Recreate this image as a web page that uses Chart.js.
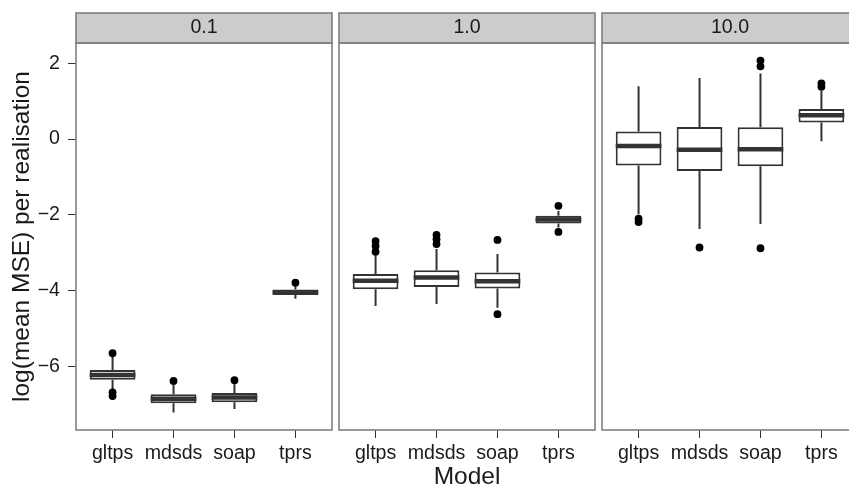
<!DOCTYPE html>
<html>
<head>
<meta charset="utf-8">
<script src="https://cdn.jsdelivr.net/npm/chart.js@4.4.0/dist/chart.umd.min.js"></script>
<style>
  html, body { margin: 0; padding: 0; background: #fff; overflow: hidden; width: 849px; height: 486px; }
  canvas { position: absolute; top: 0; }
</style>
</head>
<body>
<canvas id="p1" width="334" height="496" style="left:0px"></canvas>
<canvas id="p2" width="260" height="496" style="left:337px"></canvas>
<canvas id="p3" width="260" height="496" style="left:600px"></canvas>
<script>
const models = ['gltps', 'mdsds', 'soap', 'tprs'];
const panelLabels = ['0.1', '1.0', '10.0'];
const yTicks = [-6, -4, -2, 0, 2];

// [lower whisker, Q1, median, Q3, upper whisker] for each model
const stats01 = [
    [-6.60, -6.35, -6.22, -6.09, -5.75],
    [-7.21, -6.97, -6.85, -6.73, -6.45],
    [-7.12, -6.94, -6.82, -6.70, -6.45],
    [-4.21, -4.11, -4.04, -3.97, -3.88]
];
const stats1 = [
    [-4.40, -3.96, -3.74, -3.56, -3.05],
    [-4.35, -3.90, -3.65, -3.46, -2.90],
    [-4.45, -3.94, -3.75, -3.52, -3.03],
    [-2.33, -2.23, -2.12, -2.02, -1.90]
];
const stats10 = [
    [-1.98, -0.70, -0.18, 0.20, 1.39],
    [-2.37, -0.84, -0.28, 0.32, 1.61],
    [-2.24, -0.72, -0.27, 0.31, 1.73],
    [-0.06, 0.44, 0.63, 0.79, 1.27]
];

// outliers for each model
const outliers01 = [[-5.65, -6.68, -6.78], [-6.38], [-6.36], [-3.79]];
const outliers1 = [[-2.69, -2.82, -2.97], [-2.53, -2.64, -2.77], [-2.66, -4.62], [-1.76, -2.45]];
const outliers10 = [[-2.10, -2.19], [-2.86], [1.92, 2.07, -2.88], [1.38, 1.47]];

const FONT = "'Liberation Sans', Arial, Helvetica, sans-serif";
const INK = '#1a1a1a';
const LINE = '#333333';
const FRAME = '#7f7f7f';

Chart.defaults.font.family = FONT;

// y range like ggplot: data range expanded by 5% each side
const allValues = [stats01, stats1, stats10, outliers01, outliers1, outliers10].flat(2);
const dataMin = Math.min(...allValues);
const dataMax = Math.max(...allValues);
const yMin = dataMin - 0.05 * (dataMax - dataMin);
const yMax = dataMax + 0.05 * (dataMax - dataMin);

// strip on top of the panel and frame around it
const panelDecor = {
    id: 'panelDecor',
    beforeDraw(chart, args, opts) {
        const {ctx, chartArea} = chart;
        const h = 30;
        ctx.save();
        ctx.fillStyle = '#cccccc';
        ctx.fillRect(chartArea.left, chartArea.top - h, chartArea.width, h);
        ctx.strokeStyle = FRAME;
        ctx.lineWidth = 1.6;
        ctx.strokeRect(chartArea.left, chartArea.top - h, chartArea.width, h);
        ctx.fillStyle = INK;
        ctx.font = '19.6px ' + FONT;
        ctx.textAlign = 'center';
        ctx.textBaseline = 'middle';
        ctx.fillText(opts.label, (chartArea.left + chartArea.right) / 2, chartArea.top - h / 2);
        ctx.restore();
    },
    afterDraw(chart) {
        const {ctx, chartArea} = chart;
        ctx.save();
        ctx.strokeStyle = FRAME;
        ctx.lineWidth = 1.6;
        ctx.strokeRect(chartArea.left, chartArea.top, chartArea.width, chartArea.height);
        ctx.restore();
    }
};

function halfBox(chart) {
    const x = chart.scales.x;
    return Math.abs(x.getPixelForValue(0.375) - x.getPixelForValue(0));
}

function makePanel(id, idx, stats, outliers) {
    const whiskers = [];
    stats.forEach((s, i) => {
        whiskers.push({x: i + 1, y: s[0]}, {x: i + 1, y: s[1]}, {x: i + 1, y: null});
        whiskers.push({x: i + 1, y: s[3]}, {x: i + 1, y: s[4]}, {x: i + 1, y: null});
    });
    const points = [];
    outliers.forEach((list, i) => list.forEach(v => points.push({x: i + 1, y: v})));

    return new Chart(document.getElementById(id), {
        type: 'bar',
        data: {
            datasets: [
                {
                    type: 'scatter',
                    data: points,
                    pointRadius: 3.9,
                    pointBackgroundColor: '#000',
                    pointBorderWidth: 0,
                    order: 0
                },
                {
                    type: 'scatter',
                    data: stats.map((s, i) => ({x: i + 1, y: s[2]})),
                    pointStyle: 'line',
                    pointRadius: ctx => halfBox(ctx.chart),
                    pointBorderColor: LINE,
                    pointBorderWidth: 4.5,
                    order: 1
                },
                {
                    type: 'bar',
                    data: stats.map((s, i) => ({x: i + 1, y: [s[1], s[3]]})),
                    backgroundColor: '#ffffff',
                    borderColor: LINE,
                    borderWidth: 2,
                    borderSkipped: false,
                    barPercentage: 0.75,
                    categoryPercentage: 1,
                    order: 2
                },
                {
                    type: 'line',
                    data: whiskers,
                    borderColor: LINE,
                    borderWidth: 2,
                    pointRadius: 0,
                    spanGaps: false,
                    fill: false,
                    order: 3
                }
            ]
        },
        options: {
            responsive: false,
            animation: false,
            events: [],
            layout: {autoPadding: false, padding: {left: idx === 0 ? 0 : 2, right: 2, top: 43, bottom: 0}},
            plugins: {
                legend: {display: false},
                tooltip: {enabled: false},
                panelDecor: {label: panelLabels[idx]}
            },
            scales: {
                x: {
                    type: 'linear',
                    min: 0.4,
                    max: 4.6,
                    offset: false,
                    afterBuildTicks: s => { s.ticks = models.map((m, i) => ({value: i + 1})); },
                    afterFit: s => { s.height = 66; },
                    ticks: {
                        callback: v => models[v - 1],
                        font: {size: 19.6},
                        color: INK,
                        padding: 4,
                        maxRotation: 0,
                        autoSkip: false
                    },
                    grid: {drawOnChartArea: false, drawTicks: true, tickLength: 8, color: LINE, offset: false},
                    border: {display: false},
                    title: {
                        display: idx === 1,
                        text: 'Model',
                        color: INK,
                        font: {size: 24.5, lineHeight: 1},
                        padding: {top: 0, bottom: 7}
                    }
                },
                y: {
                    type: 'linear',
                    min: yMin,
                    max: yMax,
                    display: idx === 0,
                    afterBuildTicks: s => { s.ticks = yTicks.map(v => ({value: v})); },
                    afterFit: s => { s.width = idx === 0 ? 76 : 0; },
                    ticks: {
                        callback: v => v < 0 ? '\u2212' + Math.abs(v) : String(v),
                        font: {size: 19.6},
                        color: INK,
                        padding: 8
                    },
                    grid: {drawOnChartArea: false, drawTicks: true, tickLength: 8, color: LINE},
                    border: {display: false},
                    title: {
                        display: true,
                        text: 'log(mean MSE) per realisation',
                        color: INK,
                        font: {size: 24.5, lineHeight: 1},
                        padding: {top: 10, bottom: 0}
                    }
                }
            }
        },
        plugins: [panelDecor]
    });
}

makePanel('p1', 0, stats01, outliers01);
makePanel('p2', 1, stats1, outliers1);
makePanel('p3', 2, stats10, outliers10);
</script>
</body>
</html>
